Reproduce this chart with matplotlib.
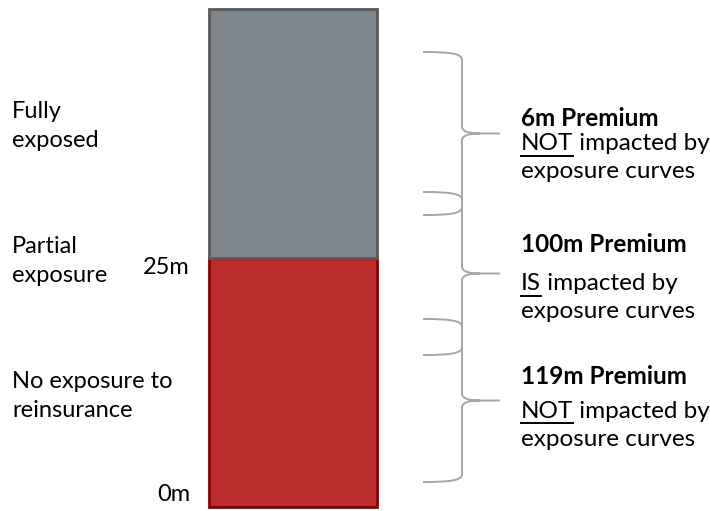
import matplotlib
matplotlib.use("Agg")
import matplotlib.pyplot as plt
from matplotlib.path import Path
import matplotlib.patches as mpatches

# layers of the bar (m)
layer_bottoms = [0, 25]
layer_heights = [25, 25]
layer_colors = ['#BE2D2D', '#7E858B']
layer_edges = ['#8B0000', '#5A5A5A']
tick_values = [0, 25]
tick_labels = ['0m', '25m']

left_labels = ['Fully\nexposed', 'Partial\nexposure', 'No exposure to\nreinsurance']
premium_titles = ['6m Premium', '100m Premium', '119m Premium']
premium_flags = ['NOT', 'IS', 'NOT']
premium_rest = [' impacted by', ' impacted by', ' impacted by']

plt.rcParams['font.family'] = ['Lato', 'DejaVu Sans']
FS = 17.5
FS_L = 17

fig = plt.figure(figsize=(7.1, 5.11), dpi=100)
ax = fig.add_axes([0, 0, 1, 1])
# 0m at pixel 507, 25m at pixel 258
ppm = (507 - 258) / 25.0
ax.set_ylim(-(511 - 507) / ppm, 507 / ppm)
ax.set_xlim(0, 710)
ax.axis('off')

for b, h, c, e in zip(layer_bottoms, layer_heights, layer_colors, layer_edges):
    ax.bar(292.5, h, bottom=b, width=168, color=c, edgecolor=e, linewidth=2)

# label offsets (m) as in the picture
for v, t, off in zip(tick_values, tick_labels, [1.3, -1.0]):
    ax.text(190, v + off, t, ha='right', va='center', fontsize=FS_L)

# overlay axes in pixel coordinates for braces and text
ov = fig.add_axes([0, 0, 1, 1])
ov.set_xlim(0, 710)
ov.set_ylim(511, 0)
ov.axis('off')


def brace(axis, ytop, ybot, x0=423, x1=462, x2=500):
    ym = (ytop + ybot) / 2
    verts = [(x0, ytop),
             (x0 + 30, ytop), (x1, ytop + 2), (x1, ytop + 8),
             (x1, ym - 7),
             (x1, ym - 1), (x1 + 10, ym), (x1 + 18, ym),
             (x2, ym)]
    codes = [Path.MOVETO, Path.CURVE4, Path.CURVE4, Path.CURVE4, Path.LINETO,
             Path.CURVE4, Path.CURVE4, Path.CURVE4, Path.LINETO]
    verts2 = [(x1 + 18, ym),
              (x1 + 10, ym), (x1, ym + 1), (x1, ym + 7),
              (x1, ybot - 8),
              (x1, ybot - 2), (x0 + 30, ybot), (x0, ybot)]
    codes2 = [Path.MOVETO, Path.CURVE4, Path.CURVE4, Path.CURVE4, Path.LINETO,
              Path.CURVE4, Path.CURVE4, Path.CURVE4]
    p = Path(verts + verts2, codes + codes2)
    axis.add_patch(mpatches.PathPatch(p, facecolor='none', edgecolor='#A2A7AC', lw=1.4))


for yt in [52, 192, 319]:
    brace(ov, yt, yt + 163)

left_y = [126, 261, 396]
for y, t in zip(left_y, left_labels):
    ov.text(12, y, t, ha='left', va='center', fontsize=FS_L, linespacing=1.5)

title_y = [118, 245, 376]
line2_y = [144, 284, 411]
line3_y = [171, 312, 439]

fig.canvas.draw()
r = fig.canvas.get_renderer()
for i in range(3):
    ov.text(521, title_y[i], premium_titles[i], ha='left', va='center',
            fontsize=FS, fontweight='bold')
    t = ov.text(521, line2_y[i], premium_flags[i], ha='left', va='center', fontsize=FS)
    bb = t.get_window_extent(renderer=r)
    w = bb.width  # pixels == data units here
    ov.plot([521, 521 + w], [line2_y[i] + 12, line2_y[i] + 12], color='black', lw=1.4)
    ov.text(521 + w, line2_y[i], premium_rest[i], ha='left', va='center', fontsize=FS)
    ov.text(521, line3_y[i], 'exposure curves', ha='left', va='center', fontsize=FS)

fig.savefig('out.png', dpi=100)
